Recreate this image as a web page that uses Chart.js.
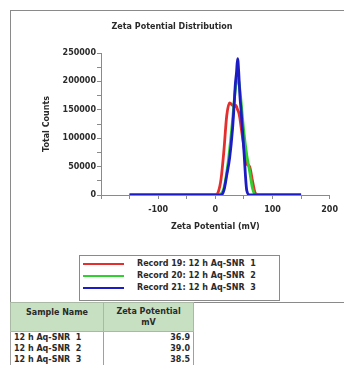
<!DOCTYPE html>
<html>
<head>
<meta charset="utf-8">
<script src="https://cdn.jsdelivr.net/npm/chart.js@4"></script>
<style>
  body { margin: 0; width: 344px; height: 374px; overflow: hidden; background: #fff;
         font-family: "DejaVu Sans", sans-serif; font-weight: bold; font-size: 8px; color: #2a2a2a; }
  #frame { position: absolute; left: 10px; top: 10px; width: 345px; height: 291px; border: 1.5px solid #8a8a8a; }
  #chart { position: absolute; left: 0; top: 0; }
  #legend { position: absolute; left: 79px; top: 255px; width: 199px; height: 44px; border: 1px solid #8a8a8a;
            overflow: hidden; background: #fff; }
  #legend .row { position: absolute; left: 0; height: 12px; white-space: pre; }
  #legend .swatch { position: absolute; left: 3px; top: 5px; width: 41px; height: 2px; }
  #legend .txt { position: absolute; left: 57px; top: 0; line-height: 12px; }
  #tbl { position: absolute; left: 10px; top: 302px; border-collapse: collapse; }
  #tbl th { background: #c7e0c2; border: 1px solid #a9b9a6; font-weight: bold; padding: 0 3px; line-height: 11px; }
  #tbl td { border-left: 1px solid #a0a0a0; border-right: 1px solid #a0a0a0; padding: 0 3px; line-height: 11px; white-space: pre; }
</style>
</head>
<body>
<div id="frame"></div>
<canvas id="chart" width="344" height="250"></canvas>
<div id="legend"></div>
<table id="tbl"></table>
<script>
const potentials = [-150, -100, -50, 0, 5, 10, 15, 20, 25, 30, 33, 35, 37, 39, 41, 43, 45, 50, 55, 60, 65, 70, 75, 100, 150];
const countsRecord19 = [0, 0, 0, 0, 5000, 28000, 78000, 140000, 162000, 158000, 155000, 158000, 156000, 150000, 145000, 135000, 120000, 85000, 55000, 50000, 25000, 3000, 0, 0, 0];
const countsRecord20 = [0, 0, 0, 0, 0, 2000, 12000, 40000, 80000, 130000, 165000, 185000, 200000, 205000, 200000, 185000, 165000, 110000, 70000, 42000, 12000, 0, 0, 0, 0];
const countsRecord21 = [0, 0, 0, 0, 0, 0, 8000, 35000, 65000, 115000, 160000, 195000, 215000, 240000, 215000, 175000, 150000, 78000, 8000, 0, 0, 0, 0, 0, 0];

const seriesLabels = ['Record 19: 12 h Aq-SNR  1', 'Record 20: 12 h Aq-SNR  2', 'Record 21: 12 h Aq-SNR  3'];
const sampleNames = ['12 h Aq-SNR  1', '12 h Aq-SNR  2', '12 h Aq-SNR  3'];
const meanZeta = ['36.9', '39.0', '38.5'];
const lineColors = ['#e3302f', '#2fd02f', '#1c1cc4'];

const fontSpec = { family: 'DejaVu Sans', weight: 'bold', size: 8 };
const textColor = '#2a2a2a';

function toPoints(values) {
    return potentials.map((p, i) => ({ x: p, y: values[i] }));
}

const allCounts = [countsRecord19, countsRecord20, countsRecord21];

const datasets = allCounts.map((values, i) => ({
    label: seriesLabels[i],
    data: toPoints(values),
    borderColor: lineColors[i],
    borderWidth: 2.8,
    pointRadius: 0,
    showLine: true,
    cubicInterpolationMode: 'monotone',
    order: 3 - i
}));

new Chart(document.getElementById('chart'), {
    type: 'scatter',
    data: { datasets: datasets },
    options: {
        responsive: false,
        animation: false,
        layout: { padding: 0 },
        plugins: {
            legend: { display: false },
            tooltip: { enabled: false },
            title: {
                display: true,
                text: 'Zeta Potential Distribution',
                color: textColor,
                font: fontSpec,
                padding: { top: 22, bottom: 21.4 }
            }
        },
        scales: {
            x: {
                type: 'linear',
                min: -200,
                max: 200,
                afterFit: (s) => { s.height = 55; },
                border: { color: '#8a8a8a', width: 1 },
                grid: { drawOnChartArea: false, tickLength: 4, color: '#8a8a8a' },
                ticks: {
                    stepSize: 50,
                    padding: 6,
                    color: textColor,
                    font: fontSpec,
                    maxRotation: 0,
                    autoSkip: false,
                    callback: (v) => (v % 100 === 0 && v !== -200) ? String(v) : ''
                },
                title: {
                    display: true,
                    text: 'Zeta Potential (mV)',
                    color: textColor,
                    font: fontSpec,
                    padding: { top: 0, bottom: 18.2 }
                }
            },
            y: {
                min: 0,
                max: 250000,
                afterFit: (s) => { s.width = 101; },
                border: { color: '#8a8a8a', width: 1 },
                grid: { drawOnChartArea: false, tickLength: 4, color: '#8a8a8a' },
                ticks: {
                    stepSize: 25000,
                    padding: 1,
                    color: textColor,
                    font: fontSpec,
                    autoSkip: false,
                    callback: (v) => (v % 50000 === 0) ? String(v) : ''
                },
                title: {
                    display: true,
                    text: 'Total Counts',
                    color: textColor,
                    font: fontSpec,
                    padding: { top: 42, bottom: 0 }
                }
            }
        }
    }
});

// legend box
const legend = document.getElementById('legend');
seriesLabels.forEach((label, i) => {
    const row = document.createElement('div');
    row.className = 'row';
    row.style.top = (2 + i * 12) + 'px';
    row.style.width = '199px';
    row.innerHTML = '<div class="swatch" style="background:' + lineColors[i] + '"></div><div class="txt">' + label + '</div>';
    legend.appendChild(row);
});

// results table
const tbl = document.getElementById('tbl');
let html = '<tr><th style="width:86px;vertical-align:top;padding-top:4px">Sample Name</th><th style="width:83px;padding-top:3px;padding-bottom:3px">Zeta Potential<br>mV</th></tr>';
sampleNames.forEach((name, i) => {
    html += '<tr><td>' + name + '</td><td style="text-align:right">' + meanZeta[i] + '</td></tr>';
});
tbl.innerHTML = html;
</script>
</body>
</html>
